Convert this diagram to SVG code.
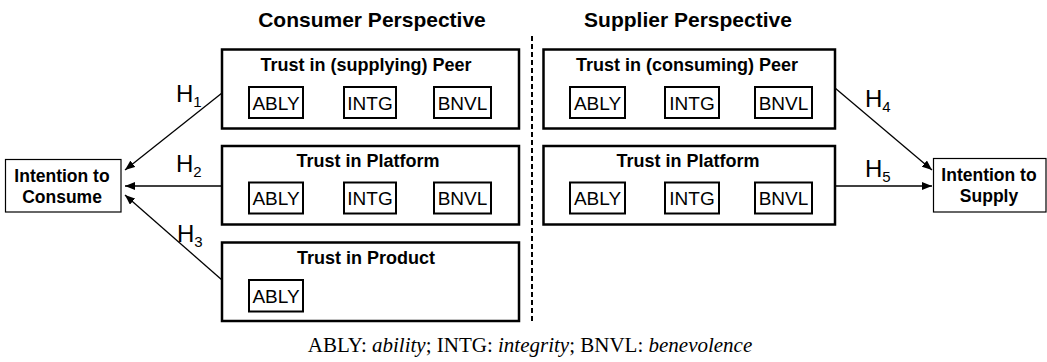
<svg xmlns="http://www.w3.org/2000/svg" width="1047" height="362" viewBox="0 0 1047 362">
<style>
.outer{fill:#fff;stroke:#000;stroke-width:2.5}
.inner{fill:#fff;stroke:#000;stroke-width:2}
.intent{fill:#fff;stroke:#000;stroke-width:1.2}
.head{font-family:"Liberation Sans",Arial,sans-serif;font-weight:bold;font-size:21px;text-anchor:middle}
.title{font-family:"Liberation Sans",Arial,sans-serif;font-weight:bold;font-size:18px;text-anchor:middle}
.lbl{font-family:"Liberation Sans",Arial,sans-serif;font-size:19px;text-anchor:middle}
.itxt{font-family:"Liberation Sans",Arial,sans-serif;font-weight:bold;font-size:17.5px;text-anchor:middle}
.h{font-family:"Liberation Sans",Arial,sans-serif;font-size:24px}
.sub{font-size:15px}
.conn{stroke:#000;stroke-width:1.3;fill:none;marker-end:url(#arr)}
.foot{font-family:"Liberation Serif","Times New Roman",serif;font-size:21px;text-anchor:middle}
</style>
<defs>
<marker id="arr" viewBox="0 0 10 8" refX="10" refY="4" markerWidth="10" markerHeight="8" markerUnits="userSpaceOnUse" orient="auto">
<path d="M0,0 L10,4 L0,8 Z" fill="#000"/>
</marker>
</defs>
<rect width="1047" height="362" fill="#fff"/>
<text class="head" x="372" y="27">Consumer Perspective</text>
<text class="head" x="688" y="27">Supplier Perspective</text>
<line x1="532" y1="36" x2="532" y2="323" stroke="#000" stroke-width="2" stroke-dasharray="5,3"/>

<g id="consumer-peer">
<rect class="outer" x="222" y="49.5" width="297" height="79"/>
<text class="title" x="366" y="71">Trust in (supplying) Peer</text>
<rect class="inner" x="249" y="87" width="54" height="31"/><text class="lbl" x="276" y="109.5">ABLY</text>
<rect class="inner" x="344" y="87" width="52" height="31"/><text class="lbl" x="370" y="109.5">INTG</text>
<rect class="inner" x="434" y="87" width="57" height="31"/><text class="lbl" x="462.5" y="109.5">BNVL</text>
</g>
<g id="consumer-platform">
<rect class="outer" x="222" y="146" width="297" height="78.5"/>
<text class="title" x="368" y="167">Trust in Platform</text>
<rect class="inner" x="249" y="182.5" width="54" height="31"/><text class="lbl" x="276" y="205">ABLY</text>
<rect class="inner" x="344" y="182.5" width="52" height="31"/><text class="lbl" x="370" y="205">INTG</text>
<rect class="inner" x="434" y="182.5" width="57" height="31"/><text class="lbl" x="462.5" y="205">BNVL</text>
</g>
<g id="consumer-product">
<rect class="outer" x="222" y="242.5" width="297" height="78.5"/>
<text class="title" x="366" y="264">Trust in Product</text>
<rect class="inner" x="249" y="280" width="54" height="31.5"/><text class="lbl" x="276" y="303">ABLY</text>
</g>
<g id="supplier-peer">
<rect class="outer" x="543.5" y="49.5" width="291.5" height="79"/>
<text class="title" x="687" y="71">Trust in (consuming) Peer</text>
<rect class="inner" x="570" y="87" width="55" height="31"/><text class="lbl" x="597.5" y="109.5">ABLY</text>
<rect class="inner" x="665" y="87" width="54" height="31"/><text class="lbl" x="692" y="109.5">INTG</text>
<rect class="inner" x="755" y="87" width="57" height="31"/><text class="lbl" x="783.5" y="109.5">BNVL</text>
</g>
<g id="supplier-platform">
<rect class="outer" x="543.5" y="146" width="291.5" height="78.5"/>
<text class="title" x="688" y="167">Trust in Platform</text>
<rect class="inner" x="570" y="182.5" width="55" height="31"/><text class="lbl" x="597.5" y="205">ABLY</text>
<rect class="inner" x="665" y="182.5" width="54" height="31"/><text class="lbl" x="692" y="205">INTG</text>
<rect class="inner" x="755" y="182.5" width="57" height="31"/><text class="lbl" x="783.5" y="205">BNVL</text>
</g>
<g id="intention-consume">
<rect class="intent" x="5.5" y="159.5" width="115.5" height="52.5"/>
<text class="itxt" x="62" y="182">Intention to</text>
<text class="itxt" x="62" y="202.5">Consume</text>
</g>
<g id="intention-supply">
<rect class="intent" x="933.5" y="158.5" width="112.5" height="53.5"/>
<text class="itxt" x="989" y="181">Intention to</text>
<text class="itxt" x="989" y="201.5">Supply</text>
</g>
<g id="connectors">
<line class="conn" x1="222" y1="93" x2="125" y2="170"/>
<line class="conn" x1="222" y1="186" x2="125" y2="186"/>
<line class="conn" x1="222" y1="280" x2="125" y2="195"/>
<line class="conn" x1="835" y1="88" x2="932" y2="170"/>
<line class="conn" x1="835" y1="186" x2="932" y2="186"/>
<text class="h" x="176" y="102">H<tspan class="sub" dy="5">1</tspan></text>
<text class="h" x="176" y="172">H<tspan class="sub" dy="5">2</tspan></text>
<text class="h" x="177" y="242">H<tspan class="sub" dy="5">3</tspan></text>
<text class="h" x="865" y="107">H<tspan class="sub" dy="5">4</tspan></text>
<text class="h" x="865" y="177">H<tspan class="sub" dy="5">5</tspan></text>
</g>
<text class="foot" x="530" y="352">ABLY: <tspan font-style="italic">ability</tspan>; INTG: <tspan font-style="italic">integrity</tspan>; BNVL: <tspan font-style="italic">benevolence</tspan></text>
</svg>
